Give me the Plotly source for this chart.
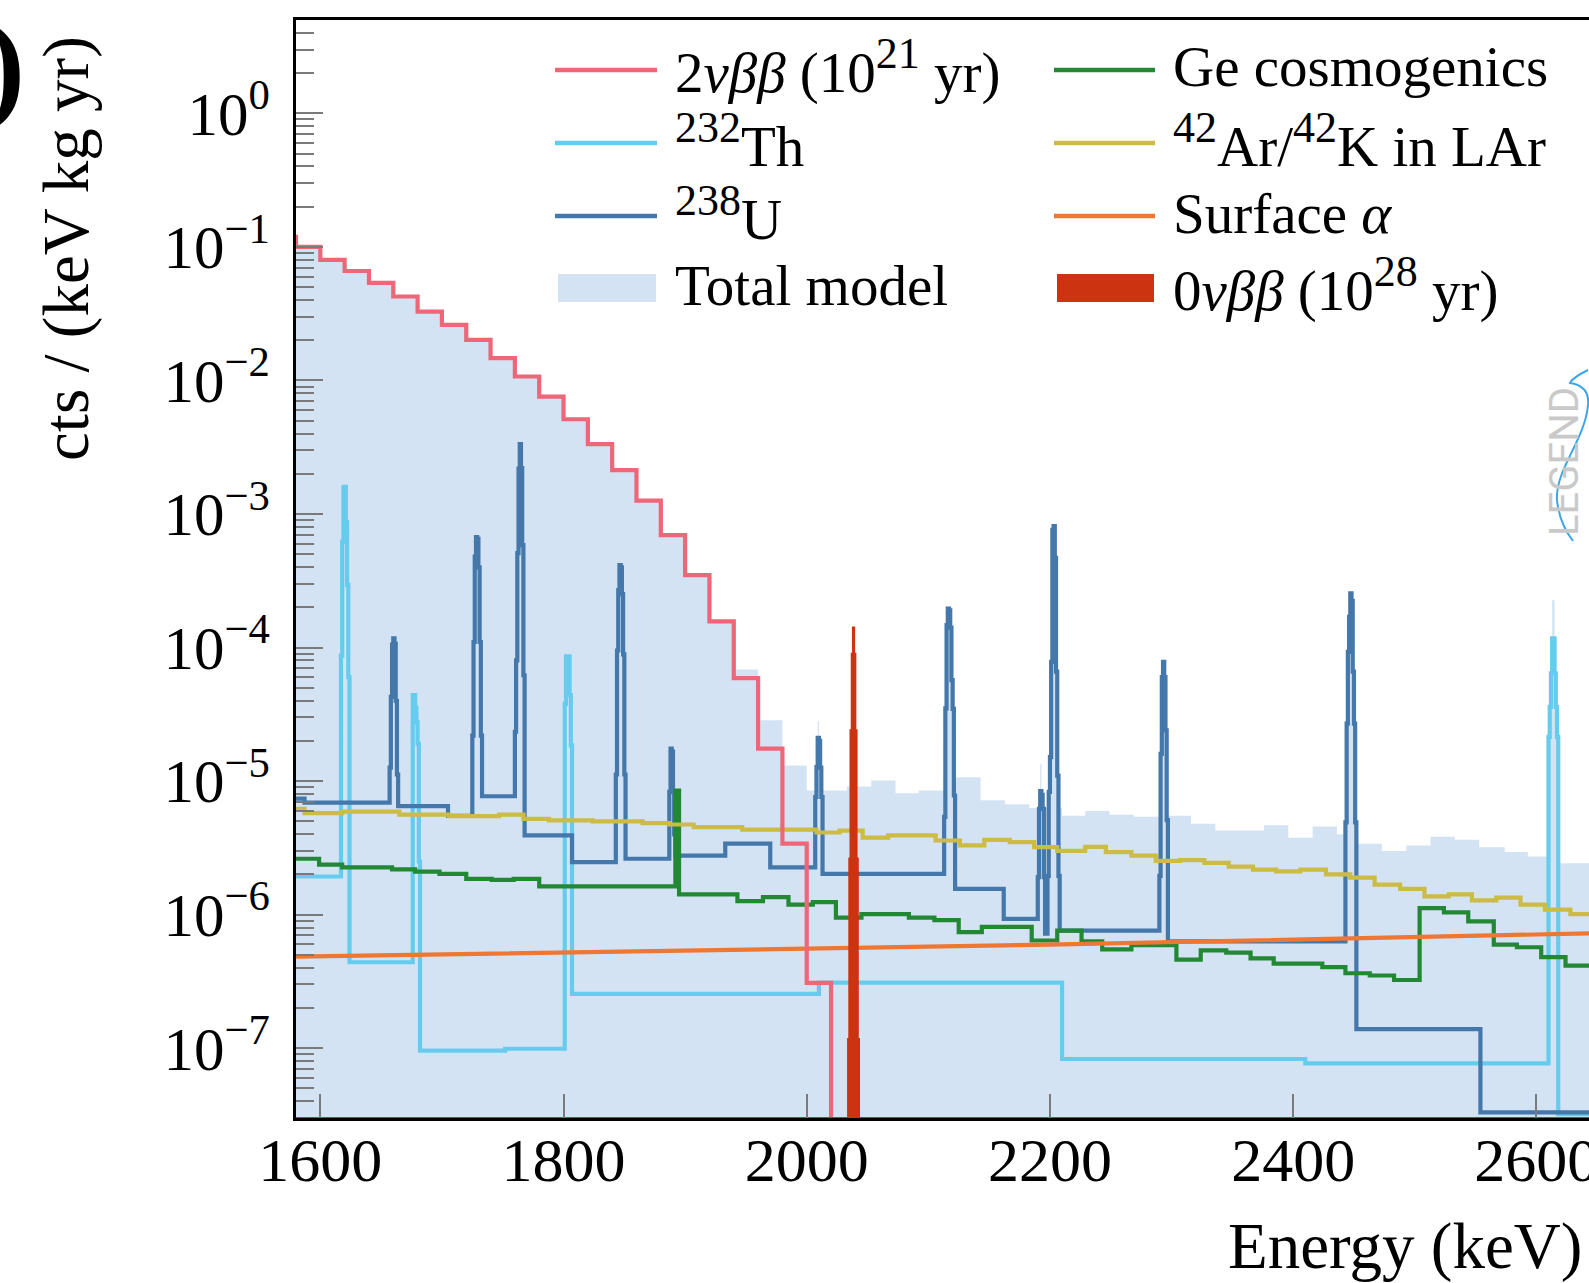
import math
import plotly.graph_objects as go

# ---------------- data ----------------
# 2nbb (10^21 yr) : 20 keV bins, low edges + values (cts/(keV kg yr))
nu2_lo = [1560, 1580, 1600, 1620, 1640, 1660, 1680, 1700, 1720, 1740,
          1760, 1780, 1800, 1820, 1840, 1860, 1880, 1900, 1920, 1940,
          1960, 1980, 2000, 2020]
nu2_val = [0.119, 0.100, 0.080, 0.066, 0.0537, 0.0425, 0.0328, 0.0261, 0.0201, 0.0147,
           0.0107, 0.00757, 0.00512, 0.00334, 0.00213, 0.00126, 6.95e-4, 3.48e-4, 1.57e-4, 5.9e-5,
           1.75e-5, 3.4e-6, 3.08e-7, 1e-12]
nu2_end = 2040

# Total model (continuum bins + narrow lines)
tot_lo = [1560, 1580, 1600, 1620, 1640, 1660, 1680, 1700, 1720, 1740,
          1760, 1780, 1800, 1820, 1840, 1860, 1880, 1900, 1920, 1940,
          1960, 1980, 2000, 2009, 2010, 2033, 2053, 2073, 2092, 2113,
          2123, 2143, 2163, 2183, 2192, 2193, 2210, 2229, 2249, 2269,
          2290, 2297, 2316, 2336, 2376, 2396, 2416, 2436, 2453, 2473,
          2493, 2513, 2533, 2553, 2574, 2593, 2610, 2613, 2615, 2619]
tot_val = [0.119, 0.100, 0.080, 0.066, 0.0537, 0.0425, 0.0328, 0.0261, 0.0201, 0.0147,
           0.0107, 0.00757, 0.00512, 0.00334, 0.00213, 0.00126, 6.95e-4, 3.5e-4, 1.6e-4, 6.84e-5,
           2.85e-5, 1.31e-5, 8.5e-6, 2.8e-5, 8.5e-6, 9.1e-6, 1.01e-5, 8.1e-6, 8.5e-6, 1.0e-5,
           1.07e-5, 7.2e-6, 6.7e-6, 6.3e-6, 1.35e-5, 6.3e-6, 5.5e-6, 5.96e-6, 5.6e-6, 5.4e-6,
           5.5e-6, 5.5e-6, 4.8e-6, 4.27e-6, 4.66e-6, 3.77e-6, 4.57e-6, 4.0e-6, 3.4e-6, 2.99e-6,
           3.3e-6, 3.83e-6, 3.63e-6, 3.2e-6, 2.94e-6, 2.73e-6, 2.6e-6, 2.26e-4, 2.6e-6, 2.43e-6]
tot_end = 2645

# 238U
u_lo = [1580, 1587, 1657, 1658, 1659, 1660, 1661, 1662, 1663, 1664,
        1705, 1725, 1726, 1727, 1728, 1729, 1730, 1731, 1732, 1733,
        1760, 1761, 1762, 1763, 1764, 1765, 1766, 1767, 1768, 1807,
        1843, 1844, 1845, 1846, 1847, 1848, 1849, 1850, 1851, 1887,
        1888, 1889, 1890, 1891, 1892, 1933, 1970, 2007, 2008, 2009,
        2010, 2011, 2012, 2013, 2113, 2114, 2115, 2116, 2117, 2118,
        2119, 2120, 2121, 2122, 2162, 2190, 2191, 2192, 2193, 2194,
        2195, 2196, 2198, 2199, 2200, 2201, 2202, 2203, 2204, 2205,
        2206, 2207, 2208, 2290, 2291, 2292, 2293, 2294, 2295, 2296,
        2297, 2443, 2444, 2445, 2446, 2447, 2448, 2449, 2450, 2451,
        2452, 2554]
u_val = [7.4e-6, 6.9e-6, 1.26e-5, 4.27e-5, 1.05e-4, 1.17e-4, 1.07e-4, 3.98e-5, 1.12e-5, 6.5e-6,
         5.5e-6, 2.19e-5, 1.1e-4, 4.79e-4, 6.7e-4, 6.5e-4, 3.98e-4, 1.1e-4, 2.19e-5, 7.7e-6,
         2.34e-5, 8.0e-5, 5.1e-4, 2.19e-3, 3.34e-3, 2.21e-3, 5.85e-4, 6.2e-5, 3.92e-6, 2.47e-6,
         1.12e-5, 9.5e-5, 2.69e-4, 4.14e-4, 3.98e-4, 2.51e-4, 8.9e-5, 1.12e-5, 2.62e-6, 8.3e-6,
         1.75e-5, 1.66e-5, 8.3e-6, 3.98e-6, 2.77e-6, 3.4e-6, 2.26e-6, 7.6e-6, 1.27e-5, 2.11e-5,
         2.0e-5, 1.26e-5, 7.6e-6, 2.02e-6, 5.4e-6, 3.5e-5, 1.47e-4, 1.96e-4, 1.9e-4, 1.41e-4,
         5.7e-5, 3.47e-5, 7.8e-6, 1.56e-6, 9.3e-7, 1.91e-6, 6.2e-6, 8.4e-6, 7.9e-6, 6.2e-6,
         1.91e-6, 7.2e-7, 1.95e-6, 8.3e-6, 1.51e-5, 7.8e-5, 7.6e-4, 8.1e-4, 4.7e-4, 6.6e-5,
         1.1e-5, 1.95e-6, 7.6e-7, 1.95e-6, 1.6e-5, 6.0e-5, 7.8e-5, 6.0e-5, 2.4e-5, 5.1e-6,
         6.3e-7, 4.9e-6, 2.69e-5, 9.3e-5, 1.7e-4, 2.54e-4, 2.24e-4, 6.6e-5, 2.69e-5, 4.9e-6,
         1.39e-7, 3.3e-8]
u_end = 2645

# 232Th
th_lo = [1580, 1617, 1618, 1619, 1620, 1621, 1622, 1623, 1624, 1676,
         1677, 1678, 1679, 1680, 1681, 1682, 1752, 1801, 1802, 1803,
         1804, 1805, 1806, 1807, 2010, 2210, 2410, 2610, 2611, 2612,
         2613, 2614, 2615, 2616, 2617, 2618]
th_val = [1.93e-6, 8.7e-5, 6.2e-4, 1.58e-3, 1.6e-3, 8.7e-4, 2.95e-4, 6.0e-5, 4.4e-7, 4.4e-5,
          4.4e-5, 3.55e-5, 2.75e-5, 1.9e-5, 2.5e-6, 9.6e-8, 9.9e-8, 3.8e-5, 8.6e-5, 8.6e-5,
          8.6e-5, 4.4e-5, 1.85e-5, 2.55e-7, 3.1e-7, 8.3e-8, 7.7e-8, 2.14e-5, 3.6e-5, 6.4e-5,
          1.17e-4, 1.17e-4, 6.4e-5, 3.6e-5, 2.14e-5, 3.2e-8]
th_end = 2645

# Ge cosmogenics
ge_lo = [1580, 1599, 1618, 1659, 1678, 1698, 1720, 1741, 1759, 1780,
         1892, 1895, 1943, 1964, 1985, 2005, 2024, 2045, 2084, 2105,
         2125, 2144, 2185, 2206, 2226, 2243, 2267, 2304, 2324, 2345,
         2365, 2384, 2404, 2424, 2443, 2463, 2483, 2504, 2524, 2544,
         2565, 2584, 2604, 2624]
ge_val = [2.62e-6, 2.37e-6, 2.26e-6, 2.18e-6, 2.1e-6, 2.02e-6, 1.85e-6, 1.82e-6, 1.85e-6, 1.63e-6,
          8.5e-6, 1.42e-6, 1.26e-6, 1.35e-6, 1.19e-6, 1.24e-6, 9.5e-7, 1.01e-6, 9.5e-7, 9.1e-7,
          7.4e-7, 8.1e-7, 6.4e-7, 7.6e-7, 6.3e-7, 5.5e-7, 5.9e-7, 4.6e-7, 5.4e-7, 5.2e-7,
          4.7e-7, 4.3e-7, 4.3e-7, 4.04e-7, 3.64e-7, 3.5e-7, 3.24e-7, 1.12e-6, 1.04e-6, 8.9e-7,
          5.97e-7, 5.7e-7, 4.8e-7, 4.15e-7]
ge_end = 2645

# 42Ar/42K in LAr
ar_lo = [1580, 1587, 1618, 1665, 1706, 1747, 1767, 1788, 1824, 1865,
         1887, 1907, 1947, 2008, 2027, 2046, 2067, 2106, 2126, 2146,
         2167, 2187, 2206, 2229, 2246, 2267, 2287, 2307, 2327, 2347,
         2367, 2386, 2406, 2427, 2447, 2467, 2488, 2508, 2528, 2547,
         2567, 2587, 2607, 2628]
ar_val = [6.2e-6, 5.75e-6, 5.9e-6, 5.6e-6, 5.47e-6, 5.6e-6, 5.22e-6, 5.07e-6, 5.0e-6, 4.84e-6,
          4.73e-6, 4.52e-6, 4.33e-6, 4.12e-6, 4.25e-6, 3.77e-6, 3.92e-6, 3.59e-6, 3.3e-6, 3.63e-6,
          3.49e-6, 3.2e-6, 3.0e-6, 3.22e-6, 2.94e-6, 2.77e-6, 2.53e-6, 2.56e-6, 2.44e-6, 2.29e-6,
          2.17e-6, 2.11e-6, 2.17e-6, 2.0e-6, 1.89e-6, 1.68e-6, 1.56e-6, 1.37e-6, 1.42e-6, 1.28e-6,
          1.34e-6, 1.19e-6, 1.09e-6, 1.01e-6]
ar_end = 2645

# Surface alpha (smooth)
sa_e = [1580, 1800, 2000, 2200, 2400, 2645]
sa_val = [4.84e-7, 5.25e-7, 5.56e-7, 5.96e-7, 6.46e-7, 7.24e-7]

# 0nbb (10^28 yr) : 1 keV bins around Qbb, clipped to the axis floor elsewhere
n0_lo = [1560, 2034, 2035, 2036, 2037, 2038, 2039, 2040, 2041, 2042, 2043]
n0_val = [3e-8, 1.17e-7, 2.63e-6, 2.4e-5, 9.0e-5, 1.41e-4, 9.0e-5, 2.4e-5, 2.63e-6, 1.17e-7, 3e-8]
n0_end = 2645

x_ticks = [1600, 1800, 2000, 2200, 2400, 2600]
y_ticks = [1e-7, 1e-6, 1e-5, 1e-4, 1e-3, 1e-2, 1e-1, 1]
y_tick_text = ["10<sup>\u22127</sup>", "10<sup>\u22126</sup>", "10<sup>\u22125</sup>",
               "10<sup>\u22124</sup>", "10<sup>\u22123</sup>", "10<sup>\u22122</sup>",
               "10<sup>\u22121</sup>", "10<sup>0</sup>"]

# ---------------- styling ----------------
C_2NU = '#EE6677'
C_TH = '#66CCEE'
C_U = '#4477AA'
C_TOT = '#D4E3F4'
C_GE = '#228833'
C_AR = '#CCBB44'
C_SA = '#EE7733'
C_0NU = '#CC3311'
GREY = '#7a7a7a'
FONT = 'Liberation Serif'
LW = 4.2

W, H = 1589, 1283
PL, PR, PT, PB = 296, 1589, 20, 1118
X_MIN, X_MAX = 1580, 2643.3
Y_MIN, Y_MAX = 3e-8, 5.0
FLOOR = 1e-9


def px(x):
    return (x - PL) / (PR - PL)


def py(y):
    return (PB - y) / (PB - PT)


def step_xy(lo, vals, end):
    return list(lo) + [end], list(vals) + [vals[-1]]


def fill_xy(lo, vals, end):
    return [lo[0]] + list(lo) + [end, end], [FLOOR] + list(vals) + [vals[-1], FLOOR]


fig = go.Figure()


def add_fill(lo, vals, end, color, name, line_w=0):
    x, y = fill_xy(lo, vals, end)
    fig.add_trace(go.Scatter(x=x, y=y, mode='lines', name=name, showlegend=False,
                             line=dict(width=line_w, shape='hv', color=color),
                             fill='toself', fillcolor=color, hoverinfo='skip'))


def add_step(lo, vals, end, color, name, width=LW):
    x, y = step_xy(lo, vals, end)
    fig.add_trace(go.Scatter(x=x, y=y, mode='lines', name=name, showlegend=False,
                             line=dict(width=width, shape='hv', color=color)))


# total model (filled), also filled under the line components
add_fill(tot_lo, tot_val, tot_end, C_TOT, 'Total model')
add_fill(u_lo, u_val, u_end, C_TOT, 'Total model')
add_fill(th_lo, th_val, th_end, C_TOT, 'Total model')

add_step(th_lo, th_val, th_end, C_TH, '232Th')
add_step(u_lo, u_val, u_end, C_U, '238U')
add_step(ge_lo, ge_val, ge_end, C_GE, 'Ge cosmogenics')
add_step(ar_lo, ar_val, ar_end, C_AR, '42Ar/42K in LAr')
fig.add_trace(go.Scatter(x=sa_e, y=sa_val, mode='lines', name='Surface alpha', showlegend=False,
                         line=dict(width=LW, color=C_SA)))
add_step(nu2_lo, nu2_val, nu2_end, C_2NU, '2nbb')
add_fill(n0_lo, n0_val, n0_end, C_0NU, '0nbb', line_w=2)

# ---------------- legend (drawn by hand, two columns) ----------------
shapes = []
annotations = []
rows = [70, 143, 216, 288]
col1_line = (555, 657)
col2_line = (1054, 1155)
col1_text = 673
col2_text = 1171
SUP = "<sup><span style='font-size:44px'>{}</span></sup>"
leg1 = [('2<i>\u03bd\u03b2\u03b2</i> (10' + SUP.format('21') + ' yr)', C_2NU, 'line'),
        (SUP.format('232') + 'Th', C_TH, 'line'),
        (SUP.format('238') + 'U', C_U, 'line'),
        ('Total model', C_TOT, 'rect')]
leg2 = [('Ge cosmogenics', C_GE, 'line'),
        (SUP.format('42') + 'Ar/' + SUP.format('42') + 'K in LAr', C_AR, 'line'),
        ('Surface <i>\u03b1</i>', C_SA, 'line'),
        ('0<i>\u03bd\u03b2\u03b2</i> (10' + SUP.format('28') + ' yr)', C_0NU, 'rect')]
for entries, (x0, x1), xt in ((leg1, col1_line, col1_text), (leg2, col2_line, col2_text)):
    for (txt, col, kind), ry in zip(entries, rows):
        if kind == 'line':
            shapes.append(dict(type='line', xref='paper', yref='paper', x0=px(x0), x1=px(x1),
                               y0=py(ry), y1=py(ry), line=dict(color=col, width=4.5)))
        else:
            shapes.append(dict(type='rect', xref='paper', yref='paper', x0=px(x0 + 3), x1=px(x1 - 1),
                               y0=py(ry + 14), y1=py(ry - 14), line=dict(width=0), fillcolor=col))
        annotations.append(dict(text=txt, xref='paper', yref='paper', x=px(xt), y=py(ry - 3),
                                xanchor='left', yanchor='middle', showarrow=False,
                                font=dict(family=FONT, size=57, color='black')))

# axis titles
annotations.append(dict(text='cts / (keV kg yr)', textangle=-90, xref='paper', yref='paper',
                        x=px(66), y=py(249), xanchor='center', yanchor='middle', showarrow=False,
                        font=dict(family=FONT, size=65, color='black')))
annotations.append(dict(text='Energy (keV)', xref='paper', yref='paper',
                        x=px(1584), y=py(1246), xanchor='right', yanchor='middle', showarrow=False,
                        font=dict(family=FONT, size=65, color='black')))
# panel-label remnant at the cropped left edge
annotations.append(dict(text='<b>)</b>', xref='paper', yref='paper', x=px(27), y=py(65),
                        xanchor='right', yanchor='middle', showarrow=False,
                        font=dict(family=FONT, size=120, color='black')))
# LEGEND collaboration watermark
annotations.append(dict(text='LEGEND', textangle=-90, xref='paper', yref='paper',
                        x=px(1565), y=py(462), xanchor='center', yanchor='middle', showarrow=False,
                        font=dict(family='Roboto', size=40, color='#c9c9c9')))
wave_pts = [(1588, 370), (1572, 378), (1570, 383), (1590, 386), (1588, 405),
            (1585, 440), (1555, 470), (1557, 500), (1559, 520), (1566, 532), (1573, 541)]
p = [(px(a), py(b)) for a, b in wave_pts]
wave = ("M {0[0]:.5f},{0[1]:.5f} Q {1[0]:.5f},{1[1]:.5f} {2[0]:.5f},{2[1]:.5f} "
        "Q {3[0]:.5f},{3[1]:.5f} {4[0]:.5f},{4[1]:.5f} "
        "C {5[0]:.5f},{5[1]:.5f} {6[0]:.5f},{6[1]:.5f} {7[0]:.5f},{7[1]:.5f} "
        "C {8[0]:.5f},{8[1]:.5f} {9[0]:.5f},{9[1]:.5f} {10[0]:.5f},{10[1]:.5f}").format(*p)
shapes.append(dict(type='path', xref='paper', yref='paper', path=wave,
                   line=dict(color='#3aa6ea', width=2)))

minor_vals = [m * 10.0 ** e for e in range(-8, 1) for m in range(2, 10)]

fig.update_layout(
    width=W, height=H, autosize=False,
    margin=dict(l=PL, r=W - PR, t=PT, b=H - PB, pad=0, autoexpand=False),
    paper_bgcolor='white', plot_bgcolor='white', showlegend=False,
    font=dict(family=FONT, color='black'),
    shapes=shapes, annotations=annotations,
)
fig.update_xaxes(range=[X_MIN, X_MAX], showline=True, linecolor='black', linewidth=3, mirror=True,
                 automargin=False,
                 ticks='inside', ticklen=24, tickwidth=1.5, tickcolor=GREY,
                 tickmode='array', tickvals=x_ticks, ticktext=[str(v) for v in x_ticks],
                 tickfont=dict(family=FONT, size=62, color='black'),
                 showgrid=False, zeroline=False, ticklabeloverflow='allow', ticklabelstandoff=-14)
fig.update_yaxes(type='log', range=[math.log10(Y_MIN), math.log10(Y_MAX)],
                 showline=True, linecolor='black', linewidth=3, mirror=False,
                 automargin=False,
                 ticks='inside', ticklen=27, tickwidth=1.5, tickcolor=GREY,
                 tickmode='array', tickvals=y_ticks, ticktext=y_tick_text,
                 tickfont=dict(family=FONT, size=61, color='black'),
                 minor=dict(ticks='inside', ticklen=18, tickwidth=1.5, tickcolor=GREY,
                            tickmode='array', tickvals=minor_vals),
                 showgrid=False, zeroline=False, ticklabelstandoff=11)

fig.write_html("out.html", config={'responsive': False})
